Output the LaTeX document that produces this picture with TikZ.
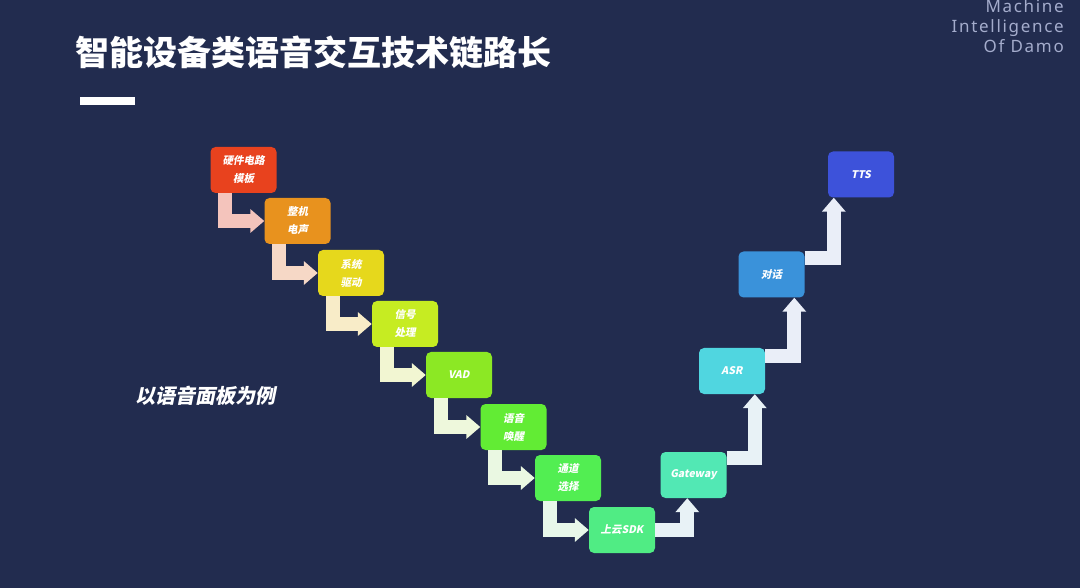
\documentclass[tikz,border=0pt]{standalone}
\usepackage{fontspec}
\usetikzlibrary{arrows.meta}
\newfontfamily\cjk{Noto Sans CJK SC}
\newfontfamily\cjkit{Noto Sans CJK SC}[FakeSlant=0.2,BoldFeatures={FakeSlant=0.2}]
\newfontfamily\brandfont{Noto Sans}[LetterSpace=10]
\definecolor{bg}{HTML}{222C4F}
\definecolor{brand}{HTML}{A4ACCC}
\definecolor{c1}{HTML}{E8421E}
\definecolor{c2}{HTML}{E8921E}
\definecolor{c3}{HTML}{E6D81C}
\definecolor{c4}{HTML}{C6EC22}
\definecolor{c5}{HTML}{8CE824}
\definecolor{c6}{HTML}{62EC34}
\definecolor{c7}{HTML}{52EE52}
\definecolor{c8}{HTML}{50EC84}
\definecolor{c9}{HTML}{52E8B4}
\definecolor{c10}{HTML}{50D6E0}
\definecolor{c11}{HTML}{3A92DA}
\definecolor{c12}{HTML}{3D52DA}
\definecolor{a1}{HTML}{F4C4BC}
\definecolor{a2}{HTML}{F6D8C6}
\definecolor{a3}{HTML}{F8ECC8}
\definecolor{a4}{HTML}{F2F6D2}
\definecolor{a5}{HTML}{EEF8DC}
\definecolor{a6}{HTML}{EAF8E2}
\definecolor{a7}{HTML}{E8F8EA}
\definecolor{u1}{HTML}{E8F2F6}
\definecolor{u2}{HTML}{EAEEF8}
\tikzset{
  box/.style={rounded corners=5pt, minimum width=66pt, minimum height=46pt,
    inner sep=0pt, text=white, font=\cjkit\bfseries\fontsize{10.5}{18}\selectfont, align=center},
  flow/.style={line width=14pt, line join=miter,
    -{Triangle[width=23pt,length=14pt]}},
}
\begin{document}
\begin{tikzpicture}[x=1pt,y=-1pt]
\fill[bg] (0,0) rectangle (1080,588);
\useasboundingbox (0,0) rectangle (1080,588);

\node[anchor=west, text=white, font=\cjk\bfseries\fontsize{34}{40}\selectfont, inner sep=0pt] (title) at (75,52) {智能设备类语音交互技术链路长};
\fill[white] (80,97) rectangle (135,105);
\node[anchor=north east, align=right, text=brand, font=\brandfont\fontsize{17}{20}\selectfont, inner sep=0pt] (brand) at (1064,-1) {Machine\\Intelligence\\Of Damo};
\node[anchor=west, text=white, font=\cjkit\bfseries\fontsize{20}{22}\selectfont, inner sep=0pt] (note) at (135,396) {以语音面板为例};

\node[box, fill=c1] (b1) at (243.5,170) {硬件电路\\模板};
\node[box, fill=c2] (b2) at (297.5,221) {整机\\电声};
\node[box, fill=c3] (b3) at (351,273) {系统\\驱动};
\node[box, fill=c4] (b4) at (405,324) {信号\\处理};
\node[box, fill=c5] (b5) at (459,375) {VAD};
\node[box, fill=c6] (b6) at (513.5,427) {语音\\唤醒};
\node[box, fill=c7] (b7) at (568,478) {通道\\选择};
\node[box, fill=c8] (b8) at (622,530) {上云SDK};
\node[box, fill=c9] (b9) at (693.5,475) {Gateway};
\node[box, fill=c10] (b10) at (732,371) {ASR};
\node[box, fill=c11] (b11) at (771.5,274.5) {对话};
\node[box, fill=c12] (b12) at (861,174.5) {TTS};

\draw[flow, a1] ([xshift=15pt]b1.south west) |- (b2.west);
\draw[flow, a2] ([xshift=15pt]b2.south west) |- (b3.west);
\draw[flow, a3] ([xshift=15pt]b3.south west) |- (b4.west);
\draw[flow, a4] ([xshift=15pt]b4.south west) |- (b5.west);
\draw[flow, a5] ([xshift=15pt]b5.south west) |- (b6.west);
\draw[flow, a6] ([xshift=15pt]b6.south west) |- (b7.west);
\draw[flow, a7] ([xshift=15pt]b7.south west) |- (b8.west);

\draw[flow, u1] (b8.east) -| ([xshift=27pt]b9.south west);
\draw[flow, u1] ([yshift=-6pt]b9.north east) -| ([xshift=56pt]b10.south west);
\draw[flow, u2] ([yshift=-8pt]b10.north east) -| ([xshift=56pt]b11.south west);
\draw[flow, u2] ([yshift=-7pt]b11.north east) -| ([xshift=6pt]b12.south west);
\end{tikzpicture}
\end{document}
